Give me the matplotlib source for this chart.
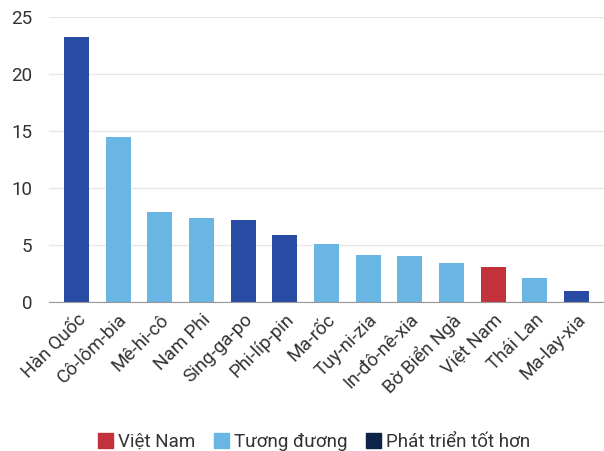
import matplotlib
matplotlib.use("Agg")
import matplotlib.pyplot as plt
from matplotlib.patches import Patch

plt.rcParams['font.family'] = ['Roboto', 'DejaVu Sans']

# du lieu doc tu bieu do
countries = ["Hàn Quốc", "Cô-lôm-bia", "Mê-hi-cô", "Nam Phi", "Sing-ga-po", "Phi-líp-pin",
             "Ma-rốc", "Tuy-ni-zia", "In-đô-nê-xia", "Bờ Biển Ngà", "Việt Nam", "Thái Lan", "Ma-lay-xia"]
values = [23.25, 14.47, 7.9, 7.37, 7.2, 5.88, 5.1, 4.12, 4.05, 3.43, 3.08, 2.1, 0.97]
groups = ["tot", "td", "td", "td", "tot", "tot", "td", "td", "td", "td", "vn", "td", "tot"]
yticks = [0, 5, 10, 15, 20, 25]

bar_colors = {"vn": "#c1323b", "td": "#69b5e3", "tot": "#284ba3"}
legend_labels = ["Việt Nam", "Tương đương", "Phát triển tốt hơn"]
legend_colors = ["#c1323b", "#69b5e3", "#0b2447"]

fig = plt.figure(figsize=(6.04, 4.51), dpi=100)
ax = fig.add_axes([0.081, 0.330, 0.919, 0.632])

x = range(len(countries))
ax.bar(x, values, width=0.6, color=[bar_colors[g] for g in groups], zorder=3)

ax.set_xlim(-0.66, len(countries) - 0.34)
ax.set_ylim(0, 25)
ax.set_yticks(yticks)
ax.set_yticklabels([str(t) for t in yticks], fontsize=13.5, color="#333333")
ax.grid(axis="y", color="#e6e6e6", linewidth=1, zorder=0)
ax.tick_params(axis="y", length=0, pad=12)
ax.tick_params(axis="x", length=0, pad=6)
for s in ["top", "right", "left"]:
    ax.spines[s].set_visible(False)
ax.spines["bottom"].set_color("#999999")
ax.spines["bottom"].set_zorder(4)

ax.set_xticks(list(x))
ax.set_xticklabels(countries, rotation=45, ha="right", rotation_mode="anchor",
                   fontsize=13.5, color="#333333")

handles = [Patch(color=c) for c in legend_colors]
fig.legend(handles, legend_labels, loc="center", bbox_to_anchor=(0.52, 0.02), ncol=3,
           frameon=False, fontsize=13.5, handlelength=0.8, handleheight=0.8,
           handletextpad=0.25, columnspacing=1.0, labelcolor="#333333")

fig.savefig("out.png", dpi=100)
